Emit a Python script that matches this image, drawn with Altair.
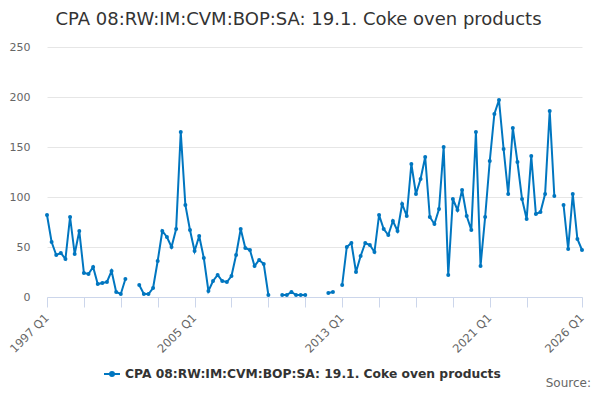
import altair as alt
import pandas as pd

# Quarterly values, 1997 Q1 .. 2026 Q1 (None = missing)
values = [
    82, 55, 42, 44, 38, 80, 43, 66, 24, 23,
    30, 13, 14, 15, 26, 5, 3, 18, None, None,
    12, 3, 3, 9, 36, 66, 60, 50, 68, 165,
    92, 67, 46, 61, 39, 6, 16, 22, 16, 15,
    21, 42, 68, 49, 47, 31, 37, 33, 2, None,
    None, 2, 2, 5, 2, 2, 2, None, None, None,
    None, 4, 5, None, 12, 50, 54, 25, 41, 54,
    52, 45, 82, 68, 62, 76, 66, 93, 81, 133,
    103, 118, 140, 80, 73, 88, 150, 22, 98, 87,
    107, 81, 67, 165, 31, 80, 136, 183, 197, 148,
    103, 169, 135, 98, 78, 141, 83, 85, 103, 186,
    101, None, 92, 48, 103, 58, 47,
]

quarters = [f"{1997 + i // 4} Q{i % 4 + 1}" for i in range(len(values))]
series_name = "CPA 08:RW:IM:CVM:BOP:SA: 19.1. Coke oven products"

tick_positions = [0, 8, 16, 24, 32, 40, 48, 56, 64, 72, 80, 88, 96, 104, 116]
label_positions = [0, 32, 64, 96, 116]

df = pd.DataFrame({
    "idx": list(range(len(values))),
    "quarter": quarters,
    "value": values,
    "series": [series_name] * len(values),
})

label_expr = (
    "indexof(" + str(label_positions) + ", datum.value) >= 0 ? "
    "(floor(datum.value / 4) + 1997) + ' Q' + (datum.value % 4 + 1) : ''"
)

FONT = "DejaVu Sans"
BLUE = "#0076c0"

line = alt.Chart(df).mark_line(
    strokeWidth=2,
    point=alt.OverlayMarkDef(filled=True, size=16, color=BLUE),
).encode(
    x=alt.X(
        "idx:Q",
        scale=alt.Scale(domain=[0, 116], nice=False, zero=False),
        axis=alt.Axis(
            title=None,
            values=tick_positions,
            labelExpr=label_expr,
            labelAngle=-45,
            labelAlign="right",
            labelBaseline="middle",
            labelFont=FONT,
            labelFontSize=11.5,
            labelColor="#666666",
            labelPadding=9,
            labelOverlap=False,
            labelFlush=False,
            grid=False,
            domainColor="#ccd6eb",
            domainWidth=1,
            tickColor="#ccd6eb",
            tickSize=10,
            tickWidth=1,
        ),
    ),
    y=alt.Y(
        "value:Q",
        scale=alt.Scale(domain=[0, 250], nice=False),
        axis=alt.Axis(
            title=None,
            values=[0, 50, 100, 150, 200, 250],
            labelFont=FONT,
            labelFontSize=11,
            labelColor="#666666",
            labelPadding=17,
            domain=False,
            ticks=False,
            gridColor="#e6e6e6",
            gridWidth=1,
        ),
    ),
    color=alt.Color(
        "series:N",
        scale=alt.Scale(range=[BLUE]),
        legend=alt.Legend(
            title=None,
            orient="none",
            legendX=56,
            legendY=318,
            labelFont=FONT,
            labelFontSize=12.3,
            labelFontWeight="bold",
            labelColor="#333333",
            labelLimit=600,
            symbolType="M-1,0H1M-0.25,0A0.25,0.25,0,1,0,0.25,0A0.25,0.25,0,1,0,-0.25,0Z",
            symbolSize=256,
            symbolStrokeWidth=2,
            symbolFillColor=BLUE,
            symbolStrokeColor=BLUE,
        ),
    ),
)

source = alt.Chart(pd.DataFrame({"t": ["Source:"]})).mark_text(
    font=FONT, fontSize=12, color="#666666", align="right", baseline="alphabetic"
).encode(text="t:N", x=alt.value(544), y=alt.value(340))

chart = alt.layer(line, source).properties(
    width=535,
    height=250,
    autosize=alt.AutoSizeParams(type="none"),
    padding={"left": 39, "top": 39, "right": 10, "bottom": 95},
    title=alt.TitleParams(
        text=series_name,
        font=FONT,
        fontSize=18,
        fontWeight="normal",
        color="#333333",
        anchor="middle",
        dx=-16,
        offset=12,
    ),
).configure_view(stroke=None)

chart.save("out.html", embed_options={"renderer": "svg", "actions": False})
